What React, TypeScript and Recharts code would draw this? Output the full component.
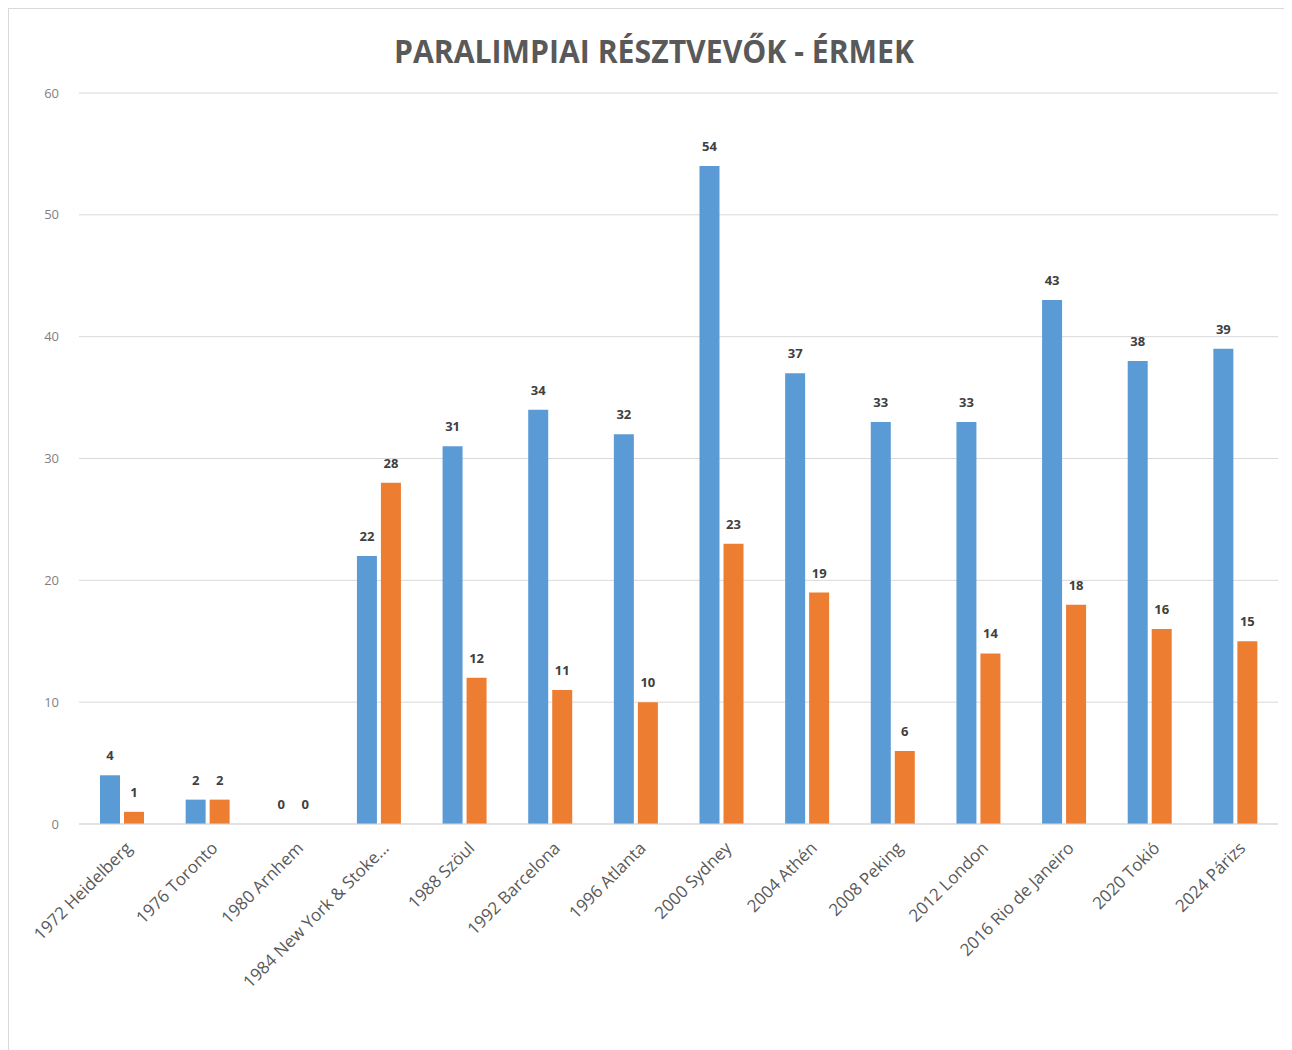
import React from "react";
import { ComposedChart, Bar, Line, XAxis, YAxis, CartesianGrid, LabelList } from "recharts";

const categories = [
  "1972 Heidelberg",
  "1976 Toronto",
  "1980 Arnhem",
  "1984 New York & Stoke...",
  "1988 Szöul",
  "1992 Barcelona",
  "1996 Atlanta",
  "2000 Sydney",
  "2004 Athén",
  "2008 Peking",
  "2012 London",
  "2016 Rio de Janeiro",
  "2020 Tokió",
  "2024 Párizs",
];
const participants = [4, 2, 0, 22, 31, 34, 32, 54, 37, 33, 33, 43, 38, 39];
const medals = [1, 2, 0, 28, 12, 11, 10, 23, 19, 6, 14, 18, 16, 15];
const yTicks = [0, 10, 20, 30, 40, 50, 60];

const data = categories.map((name, i) => ({ name, a: participants[i], b: medals[i] }));

const FONT = "'Open Sans', 'Liberation Sans', sans-serif";
const LABEL_STYLE = { fontSize: 13, fontWeight: 700, fill: "#404040", fontFamily: FONT };

const XTick = (props: any) => {
  const { x, y, payload } = props;
  return (
    <g transform={`translate(${x + 8},${y + 14})`}>
      <text
        transform="rotate(-45)"
        textAnchor="end"
        dominantBaseline="middle"
        fontSize={17}
        fill="#595959"
        fontFamily={FONT}
      >
        {payload.value}
      </text>
    </g>
  );
};

// Labels for zero-height bars (which have no rectangle to carry a label)
const zeroLabel = (dx: number) => (props: any) => {
  const { x, y, value, index } = props;
  if (value !== 0) return <g key={`z${dx}${index}`} />;
  return (
    <text
      key={`z${dx}${index}`}
      x={x + dx}
      y={y - 15}
      textAnchor="middle"
      style={LABEL_STYLE}
    >
      {value}
    </text>
  );
};

export default function App() {
  return (
    <div
      style={{
        width: 1284,
        height: 1050,
        border: "1px solid #d9d9d9",
        boxSizing: "border-box",
        position: "relative",
        background: "#fff",
      }}
    >
      <ComposedChart
        width={1282}
        height={1040}
        data={data}
        margin={{ top: 84, right: 13, bottom: 0, left: 0 }}
        barCategoryGap={21}
        barGap={4}
      >
        <text
          x={645}
          y={45}
          textAnchor="middle"
          dominantBaseline="middle"
          fontSize={32}
          fontWeight={700}
          fill="#595959"
          fontFamily={FONT}
          textLength={520}
          lengthAdjust="spacingAndGlyphs"
        >
          PARALIMPIAI RÉSZTVEVŐK - ÉRMEK
        </text>
        <CartesianGrid vertical={false} stroke="#d9d9d9" />
        <XAxis
          dataKey="name"
          interval={0}
          height={225}
          tickLine={false}
          axisLine={{ stroke: "#d9d9d9" }}
          tick={<XTick />}
        />
        <YAxis
          width={70}
          domain={[0, 60]}
          ticks={yTicks}
          axisLine={false}
          tickLine={false}
          tick={{ fontSize: 13, fill: "#7f7f7f", fontFamily: FONT }}
          tickMargin={14}
        />
        <Bar dataKey="a" fill="#5B9BD5" barSize={20} isAnimationActive={false}>
          <LabelList dataKey="a" position="top" offset={15} style={LABEL_STYLE} />
        </Bar>
        <Bar dataKey="b" fill="#ED7D31" barSize={20} isAnimationActive={false}>
          <LabelList dataKey="b" position="top" offset={15} style={LABEL_STYLE} />
        </Bar>
        <Line
          dataKey="a"
          stroke="none"
          dot={false}
          activeDot={false}
          legendType="none"
          isAnimationActive={false}
          label={zeroLabel(-12)}
        />
        <Line
          dataKey="b"
          stroke="none"
          dot={false}
          activeDot={false}
          legendType="none"
          isAnimationActive={false}
          label={zeroLabel(12)}
        />
      </ComposedChart>
    </div>
  );
}
